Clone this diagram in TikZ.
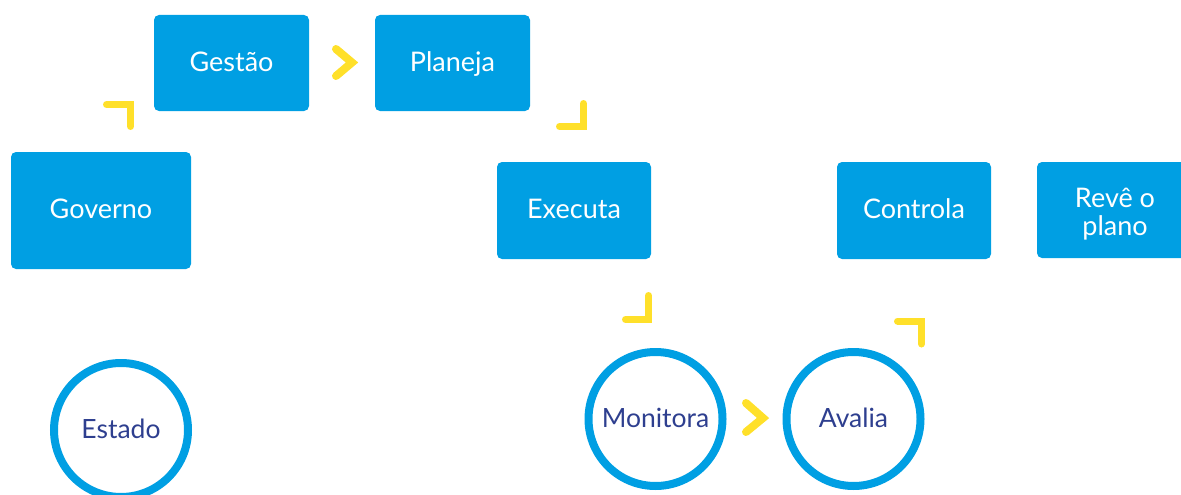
\documentclass[tikz,border=0pt]{standalone}
\usepackage{fontspec}
\setmainfont{Lato}
\definecolor{boxblue}{HTML}{009FE3}
\definecolor{txtblue}{HTML}{2E3F8F}
\definecolor{yel}{HTML}{FFE02A}
\begin{document}
\begin{tikzpicture}[x=1pt,y=-1pt,
  stepbox/.style={fill=boxblue, rounded corners=5pt, text=white, font=\fontsize{27}{27}\selectfont, align=center, inner sep=0pt},
  onel/.style={text height=19pt, text depth=3pt},
  ring/.style={circle, draw=boxblue, line width=8pt, minimum size=134pt, text=txtblue, font=\fontsize{26.5}{27}\selectfont, inner sep=0pt, text height=19pt, text depth=3pt},
  bracket/.style={draw=yel, line width=7pt, line cap=round, line join=miter},
  chevron/.style={draw=yel, line width=8pt, line cap=round, line join=miter}]
\useasboundingbox (0,0) rectangle (1181,495);
\clip (0,0) rectangle (1181,495);
\node[stepbox, onel, minimum width=180pt, minimum height=117pt] (governo) at (101,210.5) {Governo};
\node[stepbox, onel, minimum width=155pt, minimum height=96pt] (gestao) at (231.5,63) {Gestão};
\node[stepbox, onel, minimum width=155pt, minimum height=96pt] (planeja) at (452.5,63) {Planeja};
\node[stepbox, onel, minimum width=154pt, minimum height=97pt] (executa) at (574,210.5) {Executa};
\node[stepbox, onel, minimum width=154pt, minimum height=97pt] (controla) at (914,210.5) {Controla};
\node[stepbox, minimum width=156pt, minimum height=96pt] (reve) at (1115,210) {\raisebox{-6pt}[\height][\depth]{\begin{tabular}{@{}c@{}}Revê o\\plano\end{tabular}}};
\node[ring] (estado) at (121,430) {Estado};
\node[ring] (monitora) at (655.5,419) {Monitora};
\node[ring] (avalia) at (853.5,419) {Avalia};
\draw[bracket] (106.5,104.5) -- (130.5,104.5) -- (130.5,126.5);
\draw[bracket] (583.5,103.5) -- (583.5,126.5) -- (559.5,126.5);
\draw[bracket] (648.5,295.5) -- (648.5,319.5) -- (625.5,319.5);
\draw[bracket] (897.5,321) -- (921.5,321) -- (921.5,344);
\draw[chevron] (336,49) -- (352,62.5) -- (336,76);
\draw[chevron] (746,403) -- (763,418) -- (746,432);
\end{tikzpicture}
\end{document}
